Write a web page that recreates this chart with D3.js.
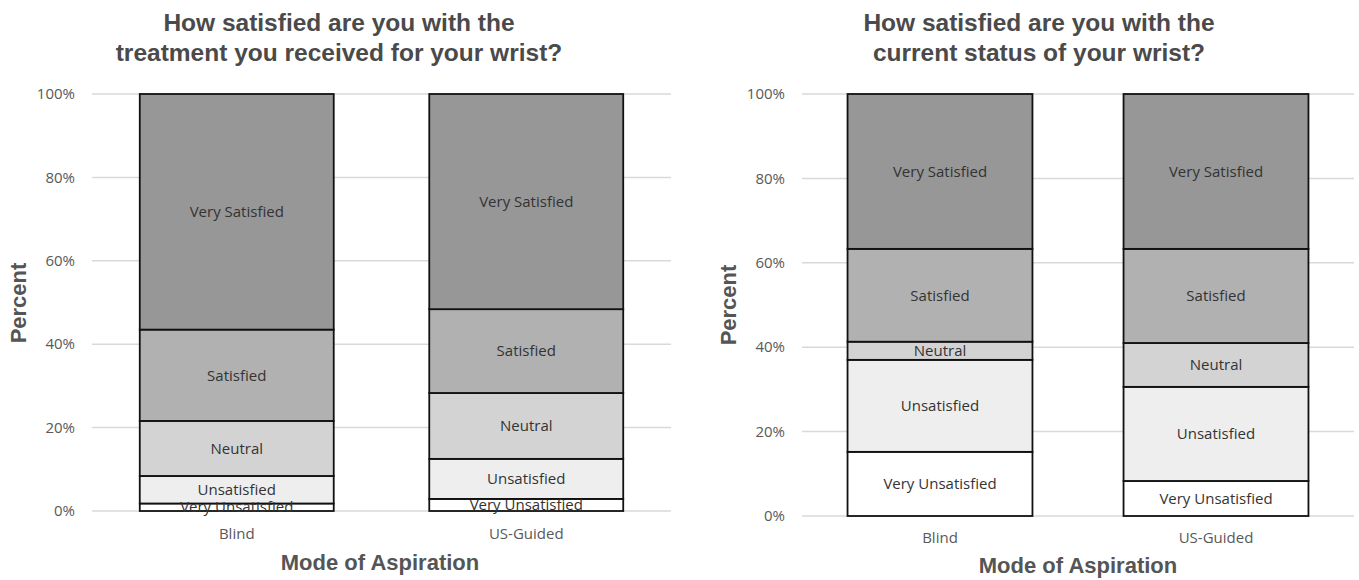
<!DOCTYPE html>
<html>
<head>
<meta charset="utf-8">
<script src="https://cdn.jsdelivr.net/npm/d3@7"></script>
<style>
    body { margin: 0; background: #fff; }
    .title, .axis-title { font-family: "Liberation Sans", Arial, sans-serif; font-weight: bold; }
    .title { fill: #4a4a4a; }
    .axis-title { fill: #555555; }
    .tick-label, .cat-label { font-family: "Open Sans", sans-serif; font-size: 15px; fill: #595959; }
    .seg-label { font-family: "Open Sans", sans-serif; font-size: 15px; fill: #333333; }
</style>
</head>
<body>
<svg id="chart"></svg>
<script>
// categories and response levels (bottom to top of each bar)
const categories = ["Blind", "US-Guided"];
const levels = ["Very Unsatisfied", "Unsatisfied", "Neutral", "Satisfied", "Very Satisfied"];

// percent of respondents per level
const treatmentBlind  = [1.8, 6.6, 13.2, 21.9, 56.5];
const treatmentGuided = [2.9, 9.6, 15.8, 20.1, 51.6];
const statusBlind     = [15.2, 21.8, 4.3, 22.0, 36.7];
const statusGuided    = [8.3, 22.3, 10.4, 22.3, 36.7];

const yTicks = [0, 20, 40, 60, 80, 100];

const treatmentTitle = ["How satisfied are you with the", "treatment you received for your wrist?"];
const statusTitle = ["How satisfied are you with the", "current status of your wrist?"];

const levelFill = {
    "Very Unsatisfied": "#ffffff",
    "Unsatisfied": "#eeeeee",
    "Neutral": "#d3d3d3",
    "Satisfied": "#b1b1b1",
    "Very Satisfied": "#979797"
};

var width = 1359,
    height = 580;

var svg = d3.select("#chart")
    .attr("width", width)
    .attr("height", height);

const toRows = function (blind, guided) {
    // one row per category, one key per level
    return [blind, guided].map(function (vals, i) {
        var row = { category: categories[i] };
        levels.forEach(function (lv, j) { row[lv] = vals[j]; });
        return row;
    });
};

const drawPanel = function (rows, titleLines, o) {
    var g = svg.append("g");

    var x = d3.scaleBand()
        .domain(categories)
        .range([o.left, o.right])
        .paddingInner(0.33)
        .paddingOuter(0.165);

    var y = d3.scaleLinear()
        .domain([0, 100])
        .range([o.bottom, o.top]);

    // gridlines
    g.selectAll(".grid")
        .data(yTicks)
        .join("line")
        .attr("x1", o.left)
        .attr("x2", o.right)
        .attr("y1", d => y(d))
        .attr("y2", d => y(d))
        .attr("stroke", "#d9d9d9")
        .attr("stroke-width", 1.5);

    // tick labels
    g.selectAll(".tick-label")
        .data(yTicks)
        .join("text")
        .attr("class", "tick-label")
        .attr("x", o.tickX)
        .attr("y", d => y(d))
        .attr("dy", "0.35em")
        .attr("text-anchor", "end")
        .text(d => d + "%");

    var series = d3.stack().keys(levels)(rows);

    var layer = g.selectAll(".layer")
        .data(series)
        .join("g")
        .attr("fill", d => levelFill[d.key]);

    layer.selectAll("rect")
        .data(d => d)
        .join("rect")
        .attr("x", d => x(d.data.category))
        .attr("width", x.bandwidth())
        .attr("y", d => y(d[1]))
        .attr("height", d => y(d[0]) - y(d[1]))
        .attr("stroke", "#111")
        .attr("stroke-width", 1.8);

    // segment labels at the middle of each piece
    series.forEach(function (s) {
        s.forEach(function (d) {
            g.append("text")
                .attr("class", "seg-label")
                .attr("x", x(d.data.category) + x.bandwidth() / 2)
                .attr("y", y((d[0] + d[1]) / 2))
                .attr("dy", "0.35em")
                .attr("text-anchor", "middle")
                .text(s.key);
        });
    });

    // category labels
    g.selectAll(".cat-label")
        .data(categories)
        .join("text")
        .attr("class", "cat-label")
        .attr("x", d => x(d) + x.bandwidth() / 2)
        .attr("y", o.catY)
        .attr("text-anchor", "middle")
        .text(d => d);

    // title
    titleLines.forEach(function (line, i) {
        g.append("text")
            .attr("class", "title")
            .attr("x", o.titleX)
            .attr("y", 31 + i * 30)
            .attr("text-anchor", "middle")
            .attr("font-size", "24.5px")
            .text(line);
    });

    // axis titles
    g.append("text")
        .attr("class", "axis-title")
        .attr("transform", "translate(" + o.yTitleX + "," + o.yTitleY + ") rotate(-90)")
        .attr("text-anchor", "middle")
        .attr("font-size", "22px")
        .text("Percent");

    g.append("text")
        .attr("class", "axis-title")
        .attr("x", o.xTitleX)
        .attr("y", o.xTitleY)
        .attr("text-anchor", "middle")
        .attr("font-size", "22px")
        .text("Mode of Aspiration");
};

drawPanel(toRows(treatmentBlind, treatmentGuided), treatmentTitle, {
    left: 92, right: 671, top: 94, bottom: 511,
    tickX: 75, catY: 539, titleX: 339,
    yTitleX: 26, yTitleY: 303, xTitleX: 380, xTitleY: 570
});

drawPanel(toRows(statusBlind, statusGuided), statusTitle, {
    left: 802, right: 1354, top: 94, bottom: 516,
    tickX: 785, catY: 543, titleX: 1039,
    yTitleX: 736, yTitleY: 305, xTitleX: 1078, xTitleY: 573
});
</script>
</body>
</html>
